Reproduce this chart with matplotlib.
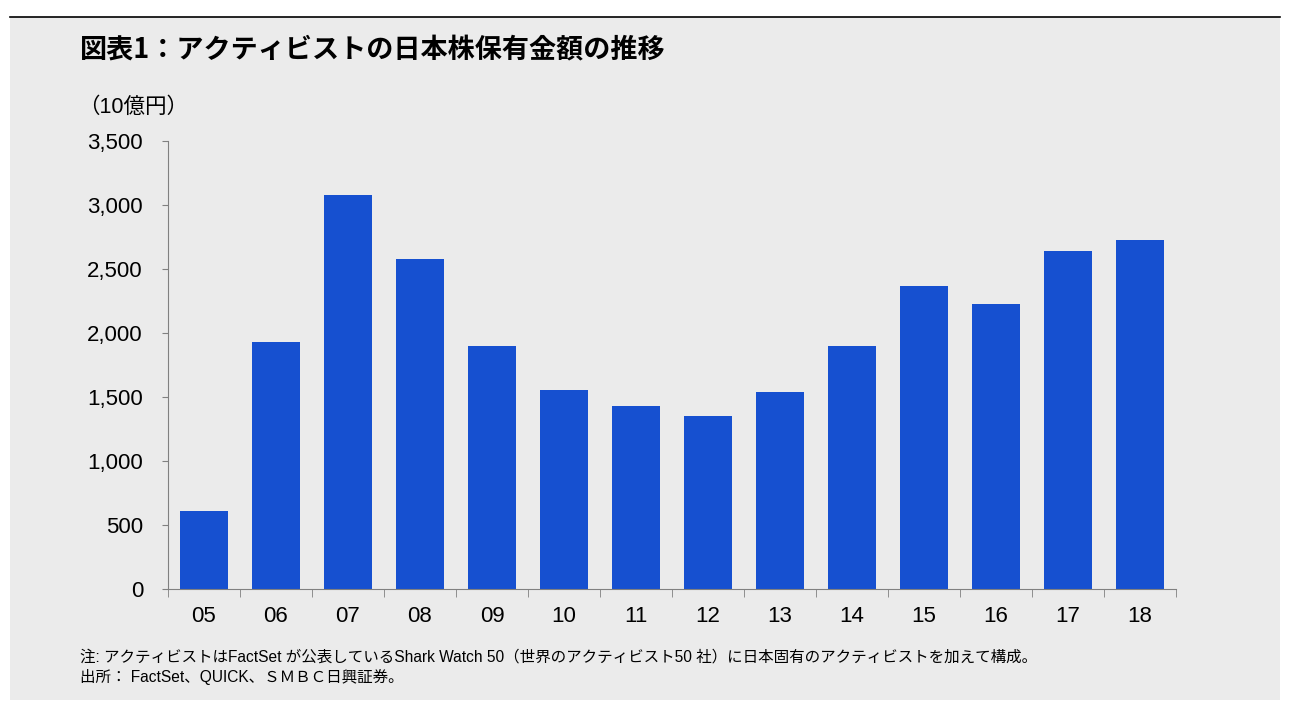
import matplotlib.pyplot as plt
from matplotlib.patches import Rectangle
from matplotlib.lines import Line2D
import numpy as np

plt.rcParams['font.family'] = ['Liberation Sans', 'Noto Sans CJK JP', 'DejaVu Sans']

years = ['05', '06', '07', '08', '09', '10', '11', '12', '13', '14', '15', '16', '17', '18']
holdings = [610, 1930, 3078, 2578, 1898, 1555, 1430, 1352, 1539, 1898, 2367, 2227, 2641, 2727]

title = '図表1：アクティビストの日本株保有金額の推移'
unit = '（10億円）'
note1 = '注: アクティビストはFactSet が公表しているShark Watch 50（世界のアクティビスト50 社）に日本固有のアクティビストを加えて構成。'
note2 = '出所： FactSet、QUICK、ＳＭＢＣ日興証券。'

bg = '#EBEBEB'
fig = plt.figure(figsize=(12.95, 7.2), dpi=100)
fig.patch.set_facecolor('white')
fig.patches.append(Rectangle((10 / 1295, 20 / 720), 1270 / 1295, 683 / 720,
                             transform=fig.transFigure, facecolor=bg, edgecolor='none', zorder=-5))
fig.lines.append(Line2D([10 / 1295, 1280 / 1295], [703 / 720, 703 / 720],
                        transform=fig.transFigure, color='black', lw=1.2))

ax = fig.add_axes([168 / 1295, 131 / 720, 1008 / 1295, 448 / 720])
ax.set_facecolor(bg)
x = np.arange(len(years))
ax.bar(x, holdings, width=0.67, color='#1650D0', zorder=2)
ax.set_xlim(-0.5, len(years) - 0.5)
ax.set_ylim(0, 3500)
ax.set_yticks(range(0, 3501, 500))
ax.set_yticklabels([f'{v:,}' for v in range(0, 3501, 500)])
ax.set_xticks(x)
ax.set_xticklabels(years)
ax.set_xticks(np.arange(-0.5, len(years), 1), minor=True)
ax.tick_params(axis='x', which='major', length=0, pad=12, labelsize=16)
ax.tick_params(axis='x', which='minor', length=6, color='#808080', direction='out')
ax.tick_params(axis='y', length=4, color='#808080', pad=14, labelsize=16)
for s in ['top', 'right']:
    ax.spines[s].set_visible(False)
for s in ['left', 'bottom']:
    ax.spines[s].set_color('#808080')

fig.text(80 / 1295, 1 - 49 / 720, title, fontsize=19.5, fontweight='bold',
         family=['Noto Sans CJK JP', 'DejaVu Sans'], va='center', ha='left')
fig.text(78 / 1295, 1 - 107 / 720, unit, fontsize=15.5,
         family=['Liberation Sans', 'Noto Sans CJK JP'], va='center', ha='left')
fig.text(80 / 1295, 1 - 657 / 720, note1, fontsize=11.2,
         family=['Liberation Sans', 'Noto Sans CJK JP'], va='center', ha='left')
fig.text(80 / 1295, 1 - 677 / 720, note2, fontsize=11.2,
         family=['Liberation Sans', 'Noto Sans CJK JP'], va='center', ha='left')

fig.savefig('out.png', dpi=100, facecolor='white')
